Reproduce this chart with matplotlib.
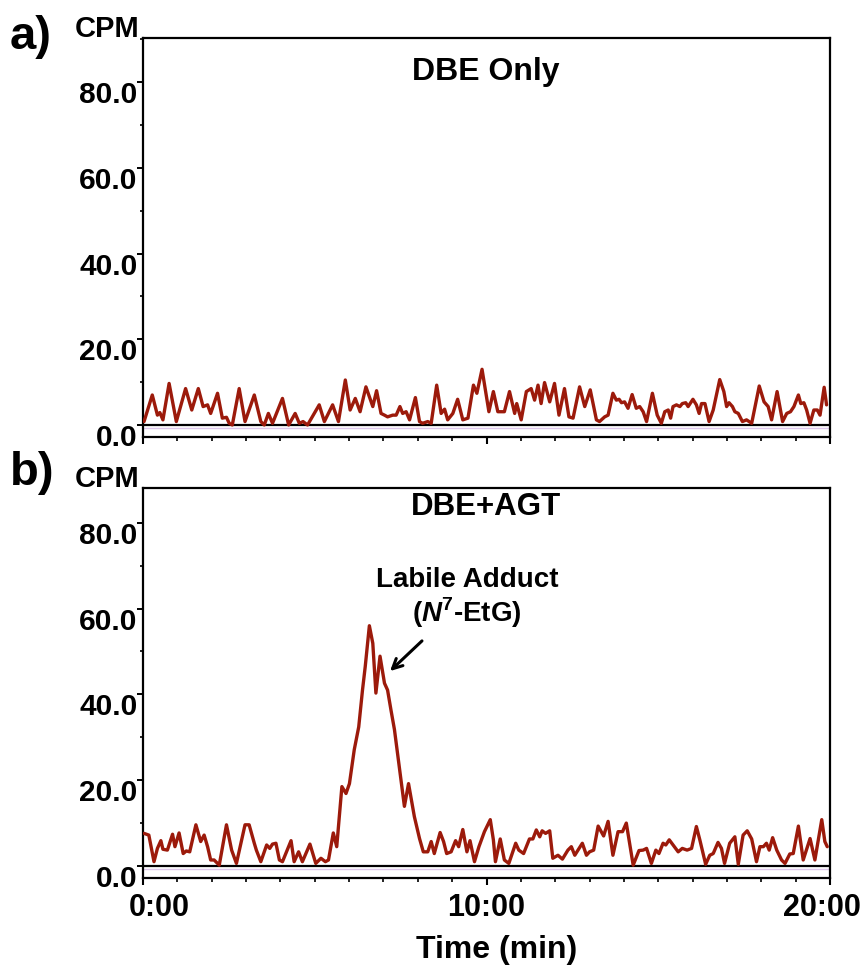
import numpy as np
import matplotlib
matplotlib.use("Agg")
import matplotlib.pyplot as plt
from matplotlib.ticker import MultipleLocator
from matplotlib.transforms import ScaledTranslation

plt.rcParams['font.family'] = ['Liberation Sans', 'DejaVu Sans']
plt.rcParams['font.weight'] = 'bold'
plt.rcParams['mathtext.fontset'] = 'custom'
plt.rcParams['mathtext.rm'] = 'Liberation Sans:bold'
plt.rcParams['mathtext.bfit'] = 'Liberation Sans:italic:bold'

# panel a) DBE only  (time in min, CPM)
time_a = [0.03, 0.27, 0.42, 0.49, 0.58, 0.76, 0.97, 1.24, 1.42, 1.61,
          1.75, 1.88, 1.97, 2.17, 2.31, 2.43, 2.51, 2.60, 2.80, 2.97,
          3.24, 3.43, 3.53, 3.65, 3.77, 4.06, 4.24, 4.43, 4.55, 4.66,
          4.79, 5.13, 5.28, 5.52, 5.69, 5.89, 6.03, 6.18, 6.32, 6.49,
          6.69, 6.80, 6.93, 7.03, 7.12, 7.27, 7.37, 7.48, 7.56, 7.66,
          7.76, 7.93, 8.05, 8.14, 8.29, 8.39, 8.55, 8.68, 8.78, 8.87,
          9.02, 9.16, 9.31, 9.46, 9.62, 9.72, 9.87, 10.07, 10.20, 10.33,
          10.52, 10.67, 10.82, 10.88, 11.01, 11.16, 11.30, 11.40, 11.50, 11.59,
          11.69, 11.84, 11.98, 12.11, 12.27, 12.40, 12.52, 12.71, 12.86, 13.02,
          13.20,
          13.29, 13.44, 13.54, 13.68, 13.78, 13.86, 13.93, 14.02, 14.12, 14.24,
          14.36, 14.46, 14.56, 14.66, 14.83, 14.97, 15.09, 15.19, 15.29, 15.36,
          15.43, 15.53, 15.63, 15.70, 15.80, 15.87, 16.01, 16.11, 16.19, 16.26,
          16.36, 16.48, 16.60, 16.79, 16.91, 16.99, 17.06, 17.16, 17.23, 17.33,
          17.45, 17.57, 17.72, 17.94, 18.08, 18.20, 18.30, 18.46, 18.62, 18.74,
          18.85, 18.95, 19.08, 19.15, 19.24, 19.32, 19.42, 19.53, 19.63, 19.71,
          19.83, 19.90]
cpm_a = [0.8, 7.0, 2.3, 2.9, 1.2, 9.7, 0.8, 8.5, 3.5, 8.5,
         4.3, 4.7, 2.7, 7.4, 1.6, 1.8, 0.4, 0.0, 8.5, 0.8,
         7.0, 0.8, 0.0, 2.7, 0.4, 6.2, 0.0, 2.7, 0.4, 0.8,
         0.0, 4.7, 0.8, 4.7, 0.8, 10.5, 3.5, 6.2, 3.1, 8.9,
         4.3, 8.0, 2.7, 2.3, 1.9, 2.3, 2.3, 4.3, 2.7, 3.1,
         1.2, 6.4, 0.8, 0.4, 0.8, 0.4, 9.3, 2.7, 3.7, 1.2,
         2.7, 6.0, 1.2, 1.6, 9.3, 7.4, 13.0, 3.1, 7.8, 3.1,
         3.1, 7.8, 2.7, 5.0, 1.2, 7.8, 8.5, 5.8, 9.3, 5.0,
         9.9, 5.4, 9.7, 2.3, 8.5, 1.9, 1.6, 8.9, 4.3, 8.2,
         1.2,
         0.8, 1.9, 2.3, 7.4, 5.8, 6.0, 5.2, 5.4, 3.9, 7.1,
         3.9, 4.3, 3.1, 0.8, 7.4, 2.3, 0.4, 3.1, 3.5, 1.6,
         4.3, 4.7, 4.3, 5.0, 5.2, 4.3, 6.0, 4.7, 2.7, 5.0,
         5.0, 0.8, 3.5, 10.6, 7.8, 4.3, 5.2, 4.3, 3.1, 2.7,
         0.8, 1.2, 0.4, 9.1, 5.4, 4.3, 1.2, 7.8, 0.8, 2.7,
         3.1, 4.3, 7.0, 5.0, 5.2, 3.5, 0.4, 3.5, 3.5, 2.3,
         8.8, 4.7]

# panel b) DBE + AGT
time_b = [0.03, 0.17, 0.32, 0.42, 0.52, 0.58, 0.71, 0.86, 0.93, 1.05,
          1.17, 1.26, 1.36, 1.54, 1.68, 1.78, 1.88, 1.97, 2.07, 2.22,
          2.43, 2.58, 2.72, 2.97, 3.09, 3.24, 3.30, 3.43, 3.60, 3.69,
          3.77, 3.87, 3.97, 4.06, 4.31, 4.40, 4.53, 4.64, 4.86, 5.03,
          5.18, 5.31, 5.40, 5.54, 5.64,
          5.79, 5.91, 6.01, 6.15, 6.28, 6.39, 6.47, 6.59, 6.69, 6.78,
          6.90, 7.03, 7.12, 7.22, 7.32, 7.46, 7.61, 7.73, 7.90,
          8.05, 8.16, 8.29, 8.39, 8.48, 8.65, 8.75, 8.84, 8.97, 9.10,
          9.19, 9.31, 9.43, 9.52, 9.65, 9.78, 9.94, 10.11, 10.20, 10.26,
          10.40, 10.52, 10.65, 10.85, 10.94, 11.08, 11.25, 11.35, 11.45, 11.55,
          11.62, 11.72, 11.84, 11.93, 12.08, 12.21, 12.37, 12.47, 12.57, 12.79,
          12.91, 13.00, 13.12, 13.25,
          13.41, 13.54, 13.68, 13.83, 13.96, 14.07, 14.27, 14.44, 14.56, 14.66,
          14.80, 14.93, 15.02, 15.14, 15.22, 15.32, 15.43, 15.58, 15.70, 15.84,
          15.97, 16.11, 16.21, 16.38, 16.50, 16.60, 16.74, 16.84, 16.93, 17.08,
          17.23, 17.33, 17.47, 17.59, 17.72, 17.86, 17.96, 18.06, 18.15, 18.23,
          18.33, 18.45, 18.59, 18.69, 18.83, 18.93, 19.08, 19.22, 19.42, 19.56,
          19.76, 19.85, 19.92]
cpm_b = [7.6, 7.2, 1.0, 4.1, 5.9, 3.9, 3.7, 7.4, 4.5, 7.7,
         2.9, 3.5, 3.3, 9.6, 5.7, 7.2, 4.5, 1.4, 1.4, 0.2,
         9.6, 3.7, 0.6, 9.6, 9.6, 5.3, 3.7, 1.0, 4.9, 4.1,
         5.1, 5.3, 1.4, 1.0, 5.9, 1.0, 3.3, 1.0, 5.1, 0.6,
         1.8, 1.0, 1.4, 7.7, 4.5,
         18.5, 16.9, 19.2, 27.1, 32.4, 41.0, 46.5, 56.0, 51.9, 40.3,
         48.9, 42.6, 41.0, 36.3, 31.8, 23.2, 13.9, 19.2, 11.5,
         6.4, 3.3, 3.3, 5.7, 2.9, 7.8, 5.7, 2.9, 3.3, 5.9,
         4.5, 8.5, 3.3, 5.9, 1.0, 4.5, 8.0, 10.8, 6.1, 1.0,
         6.3, 1.4, 0.6, 5.3, 3.7, 2.9, 6.3, 6.3, 8.4, 6.8,
         8.2, 7.6, 8.2, 1.8, 2.5, 1.6, 3.7, 4.5, 2.5, 5.3,
         2.5, 3.3, 3.7, 9.3,
         7.0, 10.4, 2.5, 8.0, 8.0, 10.0, 0.2, 3.6, 3.7, 4.1,
         0.6, 3.7, 2.9, 5.3, 4.9, 6.1, 4.9, 3.3, 4.1, 3.7,
         4.1, 9.2, 6.1, 0.4, 2.5, 2.9, 5.5, 4.1, 0.6, 5.3,
         6.8, 0.4, 7.2, 8.2, 6.3, 1.0, 4.5, 4.5, 5.3, 3.7,
         6.6, 3.7, 1.4, 0.6, 2.8, 2.9, 9.3, 1.4, 6.4, 1.4,
         10.8, 5.7, 4.5]

yticks = [0, 20, 40, 60, 80]
xticks = [0, 10, 20]
xticklabels = ["0:00", "10:00", "20:00"]

W, H = 867, 971
trace_col = "#9c1a0b"
fig = plt.figure(figsize=(W / 100, H / 100), dpi=100)


def px(x, y):
    return x / W, 1 - y / H


def setup(ax, ytop, show_xlabels):
    ax.set_xlim(0, 20)
    ax.set_ylim(-2.8, ytop)
    for s in ax.spines.values():
        s.set_linewidth(1.6)
    ax.axhline(-0.7, color="#dcc6ea", lw=1.0, zorder=1)
    ax.axhline(0, color="black", lw=1.6, zorder=2)
    ax.set_yticks(yticks)
    ax.set_yticklabels(["%.1f" % v for v in yticks])
    ax.yaxis.set_minor_locator(MultipleLocator(10))
    ax.set_xticks(xticks)
    ax.xaxis.set_minor_locator(MultipleLocator(1))
    ax.tick_params(axis="y", which="major", direction="out", length=4, width=1.4,
                   pad=0, labelsize=21.5)
    ax.tick_params(axis="y", which="minor", direction="out", length=2.5, width=1.2)
    ax.tick_params(axis="x", which="major", direction="out", length=5, width=1.5,
                   pad=6, labelsize=22)
    ax.tick_params(axis="x", which="minor", direction="out", length=3, width=1.2)
    if show_xlabels:
        ax.set_xticklabels(xticklabels)
        labs = ax.get_xticklabels()
        labs[0].set_transform(labs[0].get_transform() + ScaledTranslation(16 / 100, 0, fig.dpi_scale_trans))
        labs[-1].set_transform(labs[-1].get_transform() + ScaledTranslation(-8 / 100, 0, fig.dpi_scale_trans))
    else:
        ax.set_xticklabels([])
    for lab in ax.get_yticklabels():
        lab.set_transform(lab.get_transform() + ScaledTranslation(0, -10 / 100, fig.dpi_scale_trans))


ax_a = fig.add_axes([143 / W, 1 - 437 / H, 687 / W, 399 / H])
ax_b = fig.add_axes([143 / W, 1 - 878 / H, 687 / W, 390 / H])

line_kw = dict(color=trace_col, lw=2.4, zorder=3,
               solid_joinstyle="round", solid_capstyle="round")
ax_a.plot(time_a, cpm_a, **line_kw)
ax_b.plot(time_b, cpm_b, **line_kw)
setup(ax_a, 90.3, False)
setup(ax_b, 88.1, True)

fig.text(*px(10, 49), "a)", fontsize=34, ha="left", va="baseline")
fig.text(*px(10, 485), "b)", fontsize=34, ha="left", va="baseline")
fig.text(*px(140, 37), "CPM", fontsize=21, ha="right", va="baseline")
fig.text(*px(140, 487), "CPM", fontsize=21, ha="right", va="baseline")

fig.text(*px(486, 72), "DBE Only", fontsize=23, ha="center", va="center")
fig.text(*px(486, 507), "DBE+AGT", fontsize=22.5, ha="center", va="center")
fig.text(*px(467, 580), "Labile Adduct", fontsize=20, ha="center", va="center")
fig.text(*px(467, 613), r"($\mathbfit{N}^{7}$-EtG)", fontsize=20, ha="center", va="center")
ax_b.annotate("", xy=(388, H - 673), xycoords="figure pixels",
              xytext=(424, H - 639), textcoords="figure pixels",
              arrowprops=dict(arrowstyle="->,head_length=0.7,head_width=0.35",
                              color="black", lw=2.2))

fig.text(*px(497, 950), "Time (min)", fontsize=23, ha="center", va="center")

fig.savefig("out.png", dpi=100)
